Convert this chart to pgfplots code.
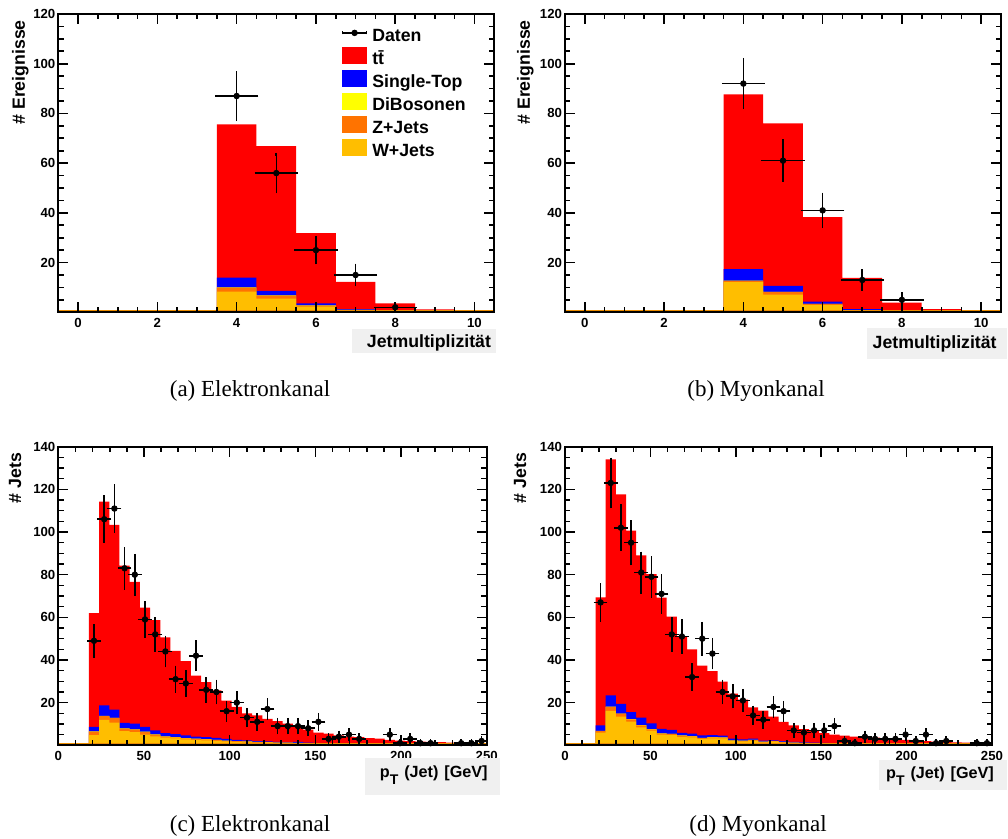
\documentclass[border=0pt]{standalone}
\usepackage{pgfplots}
\pgfplotsset{compat=1.18}
\usepackage{pgfplotstable}
\usepackage{fontspec}
\setmainfont{Liberation Serif}
\setsansfont{Liberation Sans}

\definecolor{ttbar}{RGB}{255,0,0}
\definecolor{stop}{RGB}{0,0,255}
\definecolor{dibos}{RGB}{255,255,0}
\definecolor{zjets}{RGB}{255,115,0}
\definecolor{wjets}{RGB}{255,190,0}
\definecolor{wline}{RGB}{235,140,0}
\definecolor{labelbox}{RGB}{240,240,240}

% Stacked histograms, cumulative contents per bin, x = lower bin edge.
% w = W+Jets, z = +Z+Jets, d = +DiBosonen, st = +Single-Top, tot = +ttbar
\pgfplotstableread{
x     w     z     d     st    tot
-0.5  0     0     0     0     0
0.5   0     0     0     0     0
1.5   0     0     0     0     0
2.5   0     0     0     0     0
3.5   8.3   9.9   10.0  13.9  75.6
4.5   5.5   6.7   6.8   8.6   66.8
5.5   2.3   2.7   2.8   3.6   31.8
6.5   0.8   1.0   1.0   1.3   12.2
7.5   0.3   0.4   0.4   0.7   3.6
8.5   0.1   0.1   0.1   0.2   1.2
9.5   0     0     0     0     0
10.5  0     0     0     0     0
}\histNjetEl

\pgfplotstableread{
x     w     z     d     st    tot
-0.5  0     0     0     0     0
0.5   0     0     0     0     0
1.5   0     0     0     0     0
2.5   0     0     0     0     0
3.5   12.1  12.6  12.7  17.4  87.7
4.5   7.1   8.2   8.2   10.6  76.0
5.5   2.9   3.4   3.4   4.3   38.3
6.5   0.6   0.7   0.7   1.3   13.8
7.5   0.2   0.3   0.3   0.5   3.9
8.5   0.1   0.1   0.1   0.2   1.3
9.5   0     0     0     0     0
10.5  0     0     0     0     0
}\histNjetMu

\pgfplotstableread{
x   y    ey
4   87   9.33
5   56   7.48
6   25   5.00
7   15   3.87
8   2    1.41
}\dataNjetEl

\pgfplotstableread{
x   y    ey
4   92   9.59
5   61   7.81
6   41   6.40
7   13   3.61
8   5    2.24
}\dataNjetMu

\pgfplotstableread{
x        w     z     d     st    tot
0.000    0     0     0     0     0
5.952    0     0     0     0     0
11.905   0     0     0     0     0
17.857   4.8   6.4   6.5   8.6   62.0
23.810   11.9  13.7  13.8  18.7  114.2
29.762   10.6  12.8  12.9  16.7  103.3
35.714   6.7   7.8   7.9   10.5  84.2
41.667   6.2   7.4   7.5   10.2  76.6
47.619   5.0   6.3   6.4   8.6   64.5
53.571   4.2   5.0   5.1   7.0   58.7
59.524   3.6   4.1   4.2   5.7   50.6
65.476   3.2   3.7   3.8   5.2   44.3
71.429   2.8   3.3   3.4   4.6   39.5
77.381   2.6   3.0   3.1   4.1   32.7
83.333   2.3   2.8   2.9   3.8   29.6
89.286   2.1   2.5   2.6   3.5   25.8
95.238   1.8   2.1   2.2   3.0   20.9
101.190  1.6   1.9   2.0   2.6   18.0
107.143  1.4   1.7   1.8   2.3   15.0
113.095  1.3   1.5   1.6   2.0   14.0
119.048  1.2   1.4   1.5   1.8   12.4
125.000  1.1   1.3   1.3   1.6   11.3
130.952  0.9   1.1   1.2   1.4   10.2
136.905  0.9   1.0   1.1   1.6   8.8
142.857  0.8   0.9   1.0   1.3   7.4
148.810  0.7   0.8   0.8   1.0   5.9
154.762  0.6   0.7   0.7   0.9   5.5
160.714  0.5   0.6   0.6   0.8   4.7
166.667  0.5   0.6   0.6   0.7   4.1
172.619  0.4   0.5   0.5   0.6   3.8
178.571  0.4   0.5   0.5   0.6   3.4
184.524  0.4   0.4   0.4   0.5   3.1
190.476  0.3   0.4   0.4   0.5   2.5
196.429  0.3   0.3   0.3   0.4   2.2
202.381  0.3   0.3   0.3   0.4   1.9
208.333  0.2   0.3   0.3   0.3   1.7
214.286  0.2   0.2   0.2   0.3   1.6
220.238  0.2   0.2   0.2   0.3   1.5
226.190  0.2   0.2   0.2   0.2   1.3
232.143  0.1   0.2   0.2   0.2   1.1
238.095  0.1   0.1   0.1   0.2   1.1
244.048  0.1   0.1   0.1   0.2   1.0
250.000  0.1   0.1   0.1   0.2   1.0
}\histPtEl

\pgfplotstableread{
x        w     z     d     st    tot
0.000    0     0     0     0     0
5.952    0     0     0     0     0
11.905   0     0     0     0     0
17.857   5.9   6.7   6.8   9.4   69.4
23.810   16.1  18.0  18.1  23.4  134.0
29.762   13.4  14.8  14.9  19.4  117.6
35.714   11.1  12.2  12.3  15.6  100.6
41.667   8.4   9.4   9.5   13.0  89.1
47.619   6.9   7.5   7.6   10.3  80.2
53.571   5.0   5.5   5.6   7.7   69.2
59.524   4.8   5.3   5.4   7.2   60.3
65.476   4.0   4.5   4.6   5.8   50.9
71.429   3.7   4.2   4.3   5.5   45.0
77.381   3.0   3.4   3.5   4.7   37.3
83.333   3.3   3.7   3.8   4.8   34.8
89.286   3.2   3.6   3.7   4.5   29.8
95.238   1.9   2.2   2.3   3.1   24.2
101.190  1.8   2.1   2.2   2.8   21.4
107.143  2.2   2.5   2.6   3.1   17.8
113.095  1.4   1.6   1.7   2.2   16.2
119.048  1.6   1.8   1.9   2.3   13.5
125.000  1.3   1.5   1.6   2.0   11.0
130.952  1.0   1.2   1.3   1.6   9.3
136.905  0.9   1.0   1.1   1.4   7.6
142.857  0.8   0.9   1.0   1.2   6.6
148.810  0.7   0.8   0.9   1.1   5.7
154.762  0.6   0.7   0.7   0.9   5.0
160.714  0.6   0.7   0.7   0.8   4.5
166.667  0.5   0.6   0.6   0.7   4.1
172.619  0.5   0.5   0.5   0.7   3.8
178.571  0.4   0.5   0.5   0.6   3.6
184.524  0.4   0.4   0.4   0.5   3.1
190.476  0.3   0.4   0.4   0.5   2.8
196.429  0.3   0.4   0.4   0.4   2.5
202.381  0.3   0.3   0.3   0.4   2.2
208.333  0.3   0.3   0.3   0.4   2.0
214.286  0.2   0.3   0.3   0.3   1.7
220.238  0.2   0.2   0.2   0.3   1.7
226.190  0.2   0.2   0.2   0.3   1.4
232.143  0.2   0.2   0.2   0.2   1.25
238.095  0.1   0.2   0.2   0.2   1.1
244.048  0.1   0.1   0.1   0.2   1.1
250.000  0.1   0.1   0.1   0.2   1.1
}\histPtMu

\pgfplotstableread{
x        y     ey
20.833   49    7.00
26.786   106   10.30
32.738   111   10.54
38.690   83    9.11
44.643   80    8.94
50.595   59    7.68
56.548   52    7.21
62.500   44    6.63
68.452   31    5.57
74.405   29    5.39
80.357   42    6.48
86.310   26    5.10
92.262   25    5.00
98.214   16    4.00
104.167  20    4.47
110.119  13    3.61
116.071  11    3.32
122.024  17    4.12
127.976  9     3.00
133.929  9     3.00
139.881  9     3.00
145.833  8     2.83
151.786  11    3.32
157.738  3     1.73
163.690  4     2.00
169.643  5     2.24
175.595  3     1.73
193.452  5     2.24
199.405  1     1.00
205.357  3     1.73
211.310  1     1.00
217.262  1     1.00
235.119  1     1.00
241.071  1     1.00
247.024  2     1.41
}\dataPtEl

\pgfplotstableread{
x        y     ey
20.833   67    8.19
26.786   123   11.09
32.738   102   10.10
38.690   95    9.75
44.643   81    9.00
50.595   79    8.89
56.548   71    8.43
62.500   52    7.21
68.452   51    7.14
74.405   32    5.66
80.357   50    7.07
86.310   43    6.56
92.262   25    5.00
98.214   23    4.80
104.167  21    4.58
110.119  14    3.74
116.071  12    3.46
122.024  18    4.24
127.976  16    4.00
133.929  7     2.65
139.881  6     2.45
145.833  7     2.65
151.786  7     2.65
157.738  9     3.00
163.690  2     1.41
169.643  1     1.00
175.595  4     2.00
181.548  3     1.73
187.500  3     1.73
193.452  3     1.73
199.405  5     2.24
205.357  2     1.41
211.310  5     2.24
217.262  1     1.00
223.214  2     1.41
241.071  1     1.00
247.024  1     1.00
}\dataPtMu

\newcommand{\labelfont}{\sffamily\bfseries\fontsize{8.85}{10}\selectfont}
\newcommand{\ptlabel}{\fontsize{8.1}{10}\selectfont p\raisebox{-3.5pt}{\fontsize{7}{8}\selectfont T} (Jet) [GeV]}

\pgfplotsset{
  rootframe/.style={
    scale only axis,
    axis on top,
    ymin=0,
    axis line style={line width=1pt},
    tick align=inside,
    major tick length=5pt,
    minor tick length=2.7pt,
    major tick style={black, line width=0.8pt},
    minor tick style={black, line width=0.8pt},
    tick label style={font=\sffamily\bfseries\fontsize{6.6}{7}\selectfont},
    /pgf/number format/assume math mode=true,
    xticklabel style={inner sep=0pt, yshift=-3pt},
    yticklabel style={inner sep=0pt, xshift=-1.3pt},
    label style={font=\labelfont},
    xlabel style={anchor=north east, fill=labelbox, inner xsep=0pt, inner ysep=0pt, align=right},
    ylabel style={anchor=base east},
  },
  njet/.style={rootframe, xmin=-0.5, xmax=10.5, ymax=120,
    xtick={0,2,...,10}, minor xtick={-0.5,0,...,10.5},
    ytick={20,40,...,120}, minor ytick={5,10,...,115}},
  ptjet/.style={rootframe, xmin=0, xmax=250, ymax=140,
    xtick={0,50,...,250}, minor xtick={10,20,...,240},
    ytick={20,40,...,140}, minor ytick={5,10,...,135}},
  daten/.style={black, only marks, mark=*, mark size=1.4pt, forget plot,
    error bars/.cd, x dir=both, y dir=both, y explicit, x fixed=#1,
    error bar style={line width=0.8pt},
    error mark options={mark size=0.9pt, line width=0.8pt}},
}

% draws the stacked background processes of one channel
\newcommand{\stackplot}[3]{%
  \addplot[const plot, fill=ttbar, draw=none, forget plot] table[x=x, y=tot]{#1} \closedcycle;
  \addplot[const plot, fill=stop, draw=none, forget plot] table[x=x, y=st]{#1} \closedcycle;
  \addplot[const plot, fill=dibos, draw=none, forget plot] table[x=x, y=d]{#1} \closedcycle;
  \addplot[const plot, fill=zjets, draw=none, forget plot] table[x=x, y=z]{#1} \closedcycle;
  \addplot[const plot, fill=wjets, draw=none, forget plot] table[x=x, y=w]{#1} \closedcycle;
  \addplot[wline, line width=2pt, forget plot] coordinates {(#2,0) (#3,0)};
}

\begin{document}
\begin{tikzpicture}
\useasboundingbox (0pt,0pt) rectangle (504pt,-419.5pt);

% ---------------- (a) Jetmultiplizitaet, Elektronkanal
\begin{axis}[njet,
  at={(29.15pt,-156.15pt)}, anchor=south west,
  width=218pt, height=149.15pt,
  xlabel={Jetmultiplizität\kern2.5pt},
  xlabel style={at={(axis description cs:1,0)}, xshift=1pt, yshift=-8pt,
    text width=72pt, text height=9.5pt, text depth=2.5pt},
  ylabel={\# Ereignisse},
  ylabel style={at={(axis description cs:-0.0767,1.003)}},
  legend style={at={(0.6495,0.9514)}, anchor=north west, draw=none, fill=none,
    inner sep=0pt, row sep=0.8pt, font=\labelfont,
    nodes={inner sep=0pt, text height=6.5pt, text depth=2pt},
    /tikz/every odd column/.style={column sep=2.5pt}},
  legend cell align=left,
]
\stackplot{\histNjetEl}{-0.5}{10.5}
\addplot[daten=0.5] table[x=x, y=y, y error=ey]{\dataNjetEl};

\addlegendimage{legend image code/.code={
  \draw[black, line width=0.7pt] (0pt,2.25pt) -- (12pt,2.25pt);
  \draw[black, line width=0.6pt] (0pt,1.5pt) -- (0pt,3pt) (12pt,1.5pt) -- (12pt,3pt);
  \fill[black] (6pt,2.25pt) circle (1.4pt);}}
\addlegendentry{Daten}
\addlegendimage{legend image code/.code={\fill[ttbar] (0pt,-1.75pt) rectangle (12pt,6.25pt);}}
\addlegendentry{t\={t}}
\addlegendimage{legend image code/.code={\fill[stop] (0pt,-1.75pt) rectangle (12pt,6.25pt);}}
\addlegendentry{Single-Top}
\addlegendimage{legend image code/.code={\fill[dibos] (0pt,-1.75pt) rectangle (12pt,6.25pt);}}
\addlegendentry{DiBosonen}
\addlegendimage{legend image code/.code={\fill[zjets] (0pt,-1.75pt) rectangle (12pt,6.25pt);}}
\addlegendentry{Z+Jets}
\addlegendimage{legend image code/.code={\fill[wjets] (0pt,-1.75pt) rectangle (12pt,6.25pt);}}
\addlegendentry{W+Jets}
\end{axis}

% ---------------- (b) Jetmultiplizitaet, Myonkanal
\begin{axis}[njet,
  at={(282.5pt,-156.15pt)}, anchor=south west,
  width=218pt, height=149.15pt,
  xlabel={Jetmultiplizität\kern5pt},
  xlabel style={at={(axis description cs:1,0)}, xshift=3pt, yshift=-7.5pt,
    text width=70pt, text height=10.5pt, text depth=5pt},
  ylabel={\# Ereignisse},
  ylabel style={at={(axis description cs:-0.0803,1.003)}},
]
\stackplot{\histNjetMu}{-0.5}{10.5}
\addplot[daten=0.5] table[x=x, y=y, y error=ey]{\dataNjetMu};
\end{axis}

% ---------------- (c) Jet-pT, Elektronkanal
\begin{axis}[ptjet,
  at={(29.15pt,-372.65pt)}, anchor=south west,
  width=214.2pt, height=149.3pt,
  xlabel={\ptlabel\kern6pt},
  xlabel style={at={(axis description cs:1,0)}, xshift=6.65pt, yshift=-6.35pt,
    text width=67.5pt, text height=9.5pt, text depth=9pt},
  ylabel={\# Jets},
  ylabel style={at={(axis description cs:-0.087,1.003)}},
]
\stackplot{\histPtEl}{0}{250}
\addplot[daten=2.976] table[x=x, y=y, y error=ey]{\dataPtEl};
\end{axis}

% ---------------- (d) Jet-pT, Myonkanal
\begin{axis}[ptjet,
  at={(282.5pt,-372.65pt)}, anchor=south west,
  width=213.5pt, height=149.3pt,
  xlabel={\ptlabel\kern6.5pt},
  xlabel style={at={(axis description cs:1,0)}, xshift=7.65pt, yshift=-7.35pt,
    text width=64pt, text height=9pt, text depth=6pt},
  ylabel={\# Jets},
  ylabel style={at={(axis description cs:-0.0913,1.003)}},
]
\stackplot{\histPtMu}{0}{250}
\addplot[daten=2.976] table[x=x, y=y, y error=ey]{\dataPtMu};
\end{axis}

% sub-figure captions
\begin{scope}[every node/.style={font=\fontsize{11.5}{13}\selectfont, anchor=base, inner sep=0pt}]
\node at (125pt,-198.5pt) {(a) Elektronkanal};
\node at (378pt,-198.5pt) {(b) Myonkanal};
\node at (125pt,-416pt) {(c) Elektronkanal};
\node at (379pt,-416pt) {(d) Myonkanal};
\end{scope}
\end{tikzpicture}
\end{document}
